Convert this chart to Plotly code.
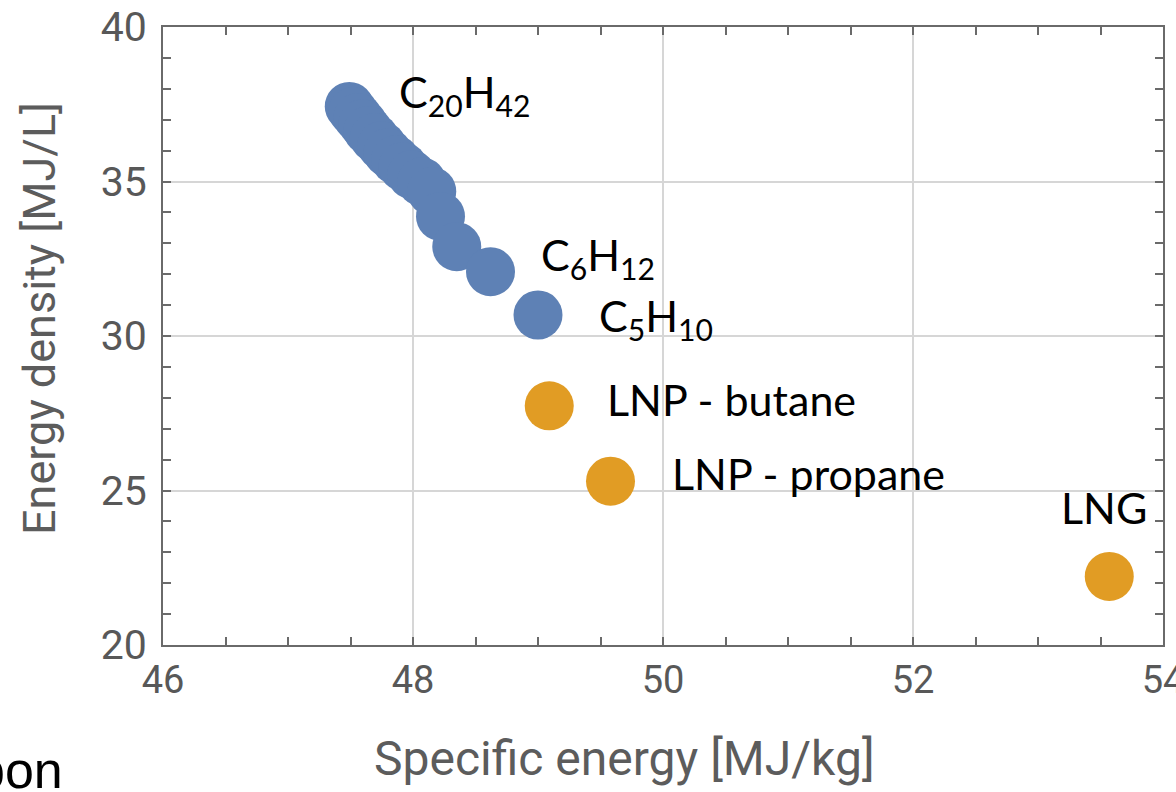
import plotly.graph_objects as go

# Hydrocarbon fuels (blue) and liquefied gases (orange)
hc_names = ["C20H42", "C19", "C18", "C17", "C16", "C15", "C14", "C13", "C12",
            "C11", "C10", "C9", "C8", "C7", "C7b", "C6H12", "C5H10"]
hc_specific = [47.49, 47.52, 47.56, 47.60, 47.64, 47.69, 47.75, 47.80, 47.86,
               47.92, 47.99, 48.07, 48.15, 48.22, 48.35, 48.62, 49.00]
hc_density = [37.43, 37.27, 37.07, 36.87, 36.65, 36.42, 36.16, 35.93, 35.70,
              35.48, 35.22, 34.99, 34.68, 33.87, 32.89, 32.08, 30.68]

gas_names = ["LNP - butane", "LNP - propane", "LNG"]
gas_specific = [49.09, 49.58, 53.57]
gas_density = [27.74, 25.30, 22.22]

# labels: (text, index, xshift, yshift, xanchor)
hc_labels = [
    ("C<sub>20</sub>H<sub>42</sub>", 0, 48, 12, "left"),
    ("C<sub>6</sub>H<sub>12</sub>", 15, 48, 14, "left"),
    ("C<sub>5</sub>H<sub>10</sub>", 16, 59, -4, "left"),
]
gas_labels = [
    ("LNP - butane", 0, 56, 6, "left"),
    ("LNP - propane", 1, 59, 8, "left"),
    ("LNG", 2, -5, 69, "center"),
]

BLUE = "#5E81B5"
ORANGE = "#E19C24"
AXIS = "#6a6a6a"
TICKTXT = "#585858"

fig = go.Figure()
fig.add_trace(go.Scatter(x=hc_specific, y=hc_density, mode="markers",
                         marker=dict(size=49, color=BLUE, line=dict(width=0)),
                         hoverinfo="skip", showlegend=False))
fig.add_trace(go.Scatter(x=gas_specific, y=gas_density, mode="markers",
                         marker=dict(size=49, color=ORANGE, line=dict(width=0)),
                         hoverinfo="skip", showlegend=False))

label_font = dict(family="Lato, 'Open Sans', sans-serif", size=43, color="black")
annotations = []
for text, i, dx, dy, anchor in hc_labels:
    annotations.append(dict(x=hc_specific[i], y=hc_density[i], xref="x", yref="y",
                            text=text, showarrow=False, xanchor=anchor, yanchor="middle",
                            xshift=dx, yshift=dy, font=label_font))
for text, i, dx, dy, anchor in gas_labels:
    annotations.append(dict(x=gas_specific[i], y=gas_density[i], xref="x", yref="y",
                            text=text, showarrow=False, xanchor=anchor, yanchor="middle",
                            xshift=dx, yshift=dy, font=label_font))

title_font = dict(family="Roboto, sans-serif", color="#5c5c5c")
annotations.append(dict(text="Specific energy [MJ/kg]", xref="paper", yref="paper",
                        x=0.461, y=-0.184, xanchor="center", yanchor="middle",
                        showarrow=False, font=dict(size=48, **title_font)))
annotations.append(dict(text="Energy density [MJ/L]", xref="paper", yref="paper",
                        x=-0.124, y=0.5275, xanchor="center", yanchor="middle",
                        textangle=-90, showarrow=False, font=dict(size=45, **title_font)))
annotations.append(dict(text="bon", xref="paper", yref="paper",
                        x=-0.098, y=-0.203, xanchor="right", yanchor="middle",
                        showarrow=False,
                        font=dict(family="Liberation Sans, Arial, sans-serif", size=52, color="black")))

common_axis = dict(showline=True, linecolor=AXIS, linewidth=2, mirror="allticks",
                   ticks="inside", ticklen=8, tickwidth=1.5, tickcolor=AXIS,
                   showgrid=True, gridcolor="#d6d6d6", gridwidth=1.5, zeroline=False,
                   automargin=False, ticklabeloverflow="allow")

fig.update_layout(
    template="none",
    width=1176, height=792,
    margin=dict(l=163, r=13, t=27, b=147),
    paper_bgcolor="white", plot_bgcolor="white",
    xaxis=dict(range=[46, 54], dtick=2, tick0=46,
               minor=dict(dtick=0.5, ticks="inside", ticklen=8, tickwidth=1.5,
                          tickcolor=AXIS, showgrid=False),
               tickfont=dict(family="Roboto, sans-serif", size=38, color=TICKTXT),
               ticklabelstandoff=0, **common_axis),
    yaxis=dict(range=[20, 40], dtick=5, tick0=20,
               minor=dict(dtick=1, ticks="inside", ticklen=8, tickwidth=1.5,
                          tickcolor=AXIS, showgrid=False),
               tickfont=dict(family="Roboto, sans-serif", size=41, color=TICKTXT),
               ticklabelstandoff=6, **common_axis),
    annotations=annotations,
)

fig.write_html("out.html")
